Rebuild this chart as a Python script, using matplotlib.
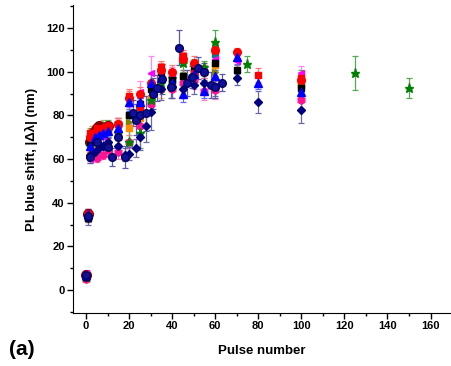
import numpy as np
import matplotlib
matplotlib.use("Agg")
import matplotlib.pyplot as plt
from matplotlib.ticker import MultipleLocator
from matplotlib.transforms import offset_copy

plt.rcParams['font.family'] = ['Liberation Sans', 'DejaVu Sans']
plt.rcParams['font.weight'] = 'bold'

# navy spheres
sph_x = [0, 1, 2, 5, 10, 12, 15, 18, 22, 23, 25, 28, 31, 33, 35.5, 39.7, 43, 47, 49, 52, 55, 58, 60, 63]
sph_y = [7, 34, 61, 68, 65.5, 61, 70, 61, 81, 78, 80, 81, 90, 92.5, 96.7, 93, 111, 95, 97.6, 101.7, 100, 94, 93, 95]
sph_e = [1.5, 2, 3, 3, 4, 4, 5, 5, 6, 7, 8, 8, 7, 6, 7, 5, 8, 6, 5, 5, 4, 6, 5, 4]

# red circles
rc_x = [0, 1, 2, 4, 6, 8, 10, 15, 20, 25, 30, 35, 40, 45, 50, 60, 70, 100]
rc_y = [7, 35, 70, 72, 73, 74, 75, 76, 88, 90, 95, 101, 100, 106, 104, 110, 109, 96]
rc_e = [1, 2, 2, 2, 2, 2, 2, 3, 3, 3, 4, 3, 3, 3, 3, 3, 2, 3]

# black squares
bs_x = [0, 1, 2, 4, 6, 8, 10, 15, 20, 25, 30, 35, 40, 45, 50, 55, 60, 70, 100]
bs_y = [6, 33, 68, 72, 74, 74, 75, 76, 80, 85, 92, 100, 96, 98, 101, 100, 104, 101, 92.5]
bs_e = [1, 2, 2, 2, 2, 2, 2, 3, 3, 3, 3, 3, 3, 3, 3, 3, 3, 2, 3]

# navy diamonds
nd_x = [0, 1, 2, 4, 6, 8, 10, 15, 18, 20, 23, 25, 28, 30, 35, 40, 45, 50, 55, 60, 70, 80, 100]
nd_y = [6, 33, 62, 63, 65, 66, 68, 66, 62, 62.5, 65, 70, 75, 81.5, 92, 93, 92, 94, 95, 93, 97, 86, 82.5]
nd_e = [1, 3, 3, 3, 3, 3, 4, 4, 3, 3, 4, 6, 7, 8, 5, 5, 4, 4, 4, 4, 3, 5, 6]

# blue triangles
bt_x = [0, 1, 2, 4, 6, 8, 10, 15, 20, 25, 30, 35, 40, 45, 50, 55, 60, 70, 80, 100]
bt_y = [7, 35, 66, 70, 71, 72, 73, 74, 86, 86, 95, 97, 95, 90, 99, 91, 98, 106.7, 95, 90.7]
bt_e = [1, 2, 2, 2, 2, 3, 3, 3, 4, 4, 4, 4, 4, 4, 3, 3, 3, 3, 3, 3]

# magenta left triangles
ml_x = [0, 1, 2, 4, 6, 8, 10, 15, 20, 25, 30, 40, 50, 60, 70, 100]
ml_y = [8, 34, 60, 68, 72, 70, 73, 75.6, 80, 90.7, 99.4, 98, 100, 106, 105, 99.4]
ml_e = [1, 2, 2, 2, 3, 3, 3, 3, 4, 5, 8, 4, 4, 4, 3, 3]

# green stars
gs_x = [0, 1, 2, 4, 6, 8, 10, 15, 20, 25, 30, 35, 40, 45, 50, 55, 60, 75, 100, 125, 150]
gs_y = [6, 34, 66, 70, 73, 74, 74, 72, 68, 72, 87, 95, 97, 104, 103, 102, 113.6, 103.5, 95.7, 99.4, 92.5]
gs_e = [1, 2, 2, 3, 3, 3, 4, 5, 6, 7, 6, 4, 4, 4, 3, 3, 5.5, 3.5, 5, 8, 4.5]

# orange squares
os_x = [0, 1, 2, 5, 10, 15, 20, 25, 30, 35, 40, 45, 50, 60, 100]
os_y = [5, 33, 62, 64, 66.4, 70, 74, 79, 88, 92, 95, 98, 100, 103, 95]
os_e = [1, 2, 2, 2, 3, 3, 3, 4, 4, 4, 4, 3, 3, 3, 3]

# dark red circles
dr_x = [0, 1, 2, 3, 4, 5, 6, 8, 10]
dr_y = [7, 35, 68, 71, 73, 74, 75, 74, 75]
dr_e = [1, 2, 2, 2, 2, 2, 2, 2, 2]

# olive right triangles
ot_x = [0, 1, 3, 5, 8, 10, 15, 20, 25, 30, 40, 60, 100]
ot_y = [6, 33, 73, 74, 75, 74, 76, 77, 78, 86, 95, 100, 96]
ot_e = [1, 2, 2, 2, 3, 3, 3, 4, 4, 5, 4, 4, 3]

# deep pink hexagons
ph_x = [0, 1, 3, 5, 8, 10, 15, 20, 25, 30, 40, 45, 50, 55, 60, 100]
ph_y = [5, 34, 63, 60.5, 62, 64, 63, 68, 75, 85, 92, 95, 96, 91, 91.6, 87]
ph_e = [1, 2, 2, 2, 2, 3, 3, 3, 4, 4, 4, 4, 4, 4, 4, 4]

# teal squares
tq_x = [0, 2, 5, 10, 20, 30, 40, 60, 100]
tq_y = [7, 69, 72, 74, 80, 88, 96, 108, 94]
tq_e = [1, 2, 2, 3, 3, 4, 4, 4, 3]

# red squares
rs_x = [0, 1, 2, 5, 10, 15, 20, 25, 35, 45, 50, 55, 60, 80, 100]
rs_y = [7, 35, 72, 74, 75, 76, 89, 84, 102, 107, 99.4, 100, 110, 98.5, 97]
rs_e = [1, 2, 2, 2, 2, 3, 3, 4, 3, 3, 3, 3, 3, 3, 3]

series = [
    (tq_x, tq_y, tq_e, 's', '#008080', '#66b2b2', 4.5),
    (ot_x, ot_y, ot_e, '>', '#808000', '#b3b366', 5),
    (dr_x, dr_y, dr_e, 'o', '#8b0000', '#c06666', 7),
    (os_x, os_y, os_e, 's', '#ff8c00', '#ffba66', 4.5),
    (ph_x, ph_y, ph_e, 'h', '#ff1493', '#ff80c0', 5.5),
    (ml_x, ml_y, ml_e, '<', '#ff00ff', '#ff88ff', 5),
    (gs_x, gs_y, gs_e, '*', '#008000', '#55aa55', 6.5),
    (bs_x, bs_y, bs_e, 's', '#000000', '#888888', 4.5),
    (rs_x, rs_y, rs_e, 's', '#ff0000', '#ff7777', 4.5),
    (rc_x, rc_y, rc_e, 'o', '#ff0000', '#ff7777', 5.5),
    (bt_x, bt_y, bt_e, '^', '#0000ff', '#6666ff', 5.5),
    (nd_x, nd_y, nd_e, 'D', '#000080', '#6a6aaa', 4.5),
]

fig = plt.figure(figsize=(4.51, 3.66), dpi=100)
ax = fig.add_axes([0.162, 0.145, 0.838, 0.841])

for x, y, e, m, c, ec, ms in series:
    ax.errorbar(x, y, yerr=e, fmt=m, color=c, mec=c, ms=ms, ecolor=ec,
                elinewidth=0.9, capsize=2.5, capthick=0.9)

# navy spheres with a highlight
ax.errorbar(sph_x, sph_y, yerr=sph_e, fmt='o', color='#10109a', mec='#000060',
            ms=5.5, ecolor='#5a5aa8', elinewidth=0.9, capsize=2.5, capthick=0.9)
hl = offset_copy(ax.transData, fig=fig, x=-0.9, y=0.9, units='points')
ax.plot(sph_x, sph_y, 'o', color='#8080ff', ms=2, transform=hl)

ax.set_xlim(-6, 169.5)
ax.set_ylim(-10.5, 130.5)
ax.xaxis.set_major_locator(MultipleLocator(20))
ax.xaxis.set_minor_locator(MultipleLocator(10))
ax.yaxis.set_major_locator(MultipleLocator(20))
ax.yaxis.set_minor_locator(MultipleLocator(10))
ax.tick_params(which='major', direction='out', length=4, width=1, labelsize=8, pad=2)
ax.tick_params(which='minor', direction='out', length=2.5, width=1)
for lab in ax.get_xticklabels() + ax.get_yticklabels():
    lab.set_fontweight('bold')
ax.spines['top'].set_visible(False)
ax.spines['right'].set_visible(False)

ax.set_xlabel("Pulse number", fontsize=9.5, fontweight='bold', labelpad=10)
ax.set_ylabel("PL blue shift, |\u0394\u03bb| (nm)", fontsize=9.5, fontweight='bold', labelpad=6)
fig.text(0.02, 0.03, "(a)", fontsize=15, fontweight='bold')

fig.savefig("out.png", dpi=100)
